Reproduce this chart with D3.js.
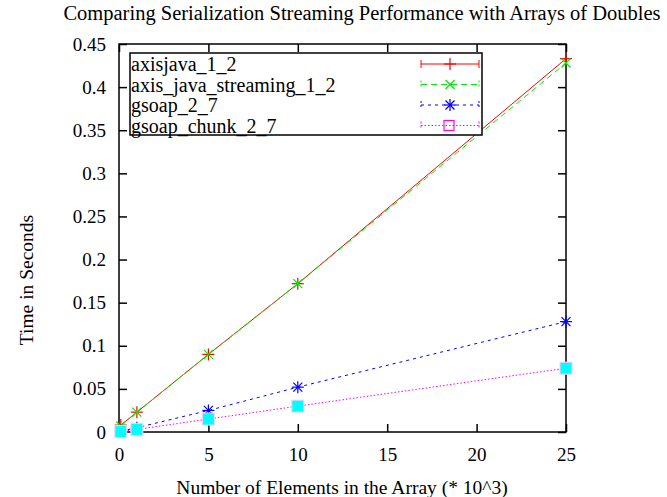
<!DOCTYPE html>
<html>
<head>
<meta charset="utf-8">
<script src="https://cdn.jsdelivr.net/npm/d3@7"></script>
<style>
  body { margin: 0; background: #fff; }
  text { font-family: "Liberation Serif", "Times New Roman", serif; fill: #000; }
</style>
</head>
<body>
<svg id="chart"></svg>
<script>
// data
var sizes = [0.1, 1, 5, 10, 25];
var axisjava = [0.008, 0.023, 0.090, 0.172, 0.433];
var axisStreaming = [0.007, 0.023, 0.090, 0.172, 0.428];
var gsoap = [0.001, 0.005, 0.025, 0.052, 0.128];
var gsoapChunk = [0.0005, 0.003, 0.015, 0.030, 0.074];
var seriesNames = ["axisjava_1_2", "axis_java_streaming_1_2", "gsoap_2_7", "gsoap_chunk_2_7"];
var xTicks = [0, 5, 10, 15, 20, 25];
var yTicks = [0, 0.05, 0.1, 0.15, 0.2, 0.25, 0.3, 0.35, 0.4, 0.45];

var W = 667, H = 497;
var margin = {top: 44, right: 101, bottom: 65, left: 119},
    width = W - margin.left - margin.right,
    height = H - margin.top - margin.bottom;

var svg = d3.select("#chart").attr("width", W).attr("height", H);
var g = svg.append("g")
  .attr("transform", "translate(" + margin.left + "," + margin.top + ")");

var x = d3.scaleLinear().domain([0, 25]).range([0, width]);
var y = d3.scaleLinear().domain([0, 0.45]).range([height, 0]);

// ticks, drawn inward on all four sides like gnuplot
var tl = 8;
g.append("g").attr("transform", "translate(0," + height + ")")
  .call(d3.axisBottom(x).tickValues(xTicks).tickSize(-tl).tickPadding(tl + 8).tickFormat(d3.format("d")));
g.append("g")
  .call(d3.axisTop(x).tickValues(xTicks).tickSize(-tl).tickFormat(""));
g.append("g")
  .call(d3.axisLeft(y).tickValues(yTicks).tickSize(-tl).tickPadding(tl + 5).tickFormat(function(d) { return d3.format("")(+d.toFixed(2)); }));
g.append("g").attr("transform", "translate(" + width + ",0)")
  .call(d3.axisRight(y).tickValues(yTicks).tickSize(-tl).tickFormat(""));
g.selectAll(".domain").remove();
g.selectAll(".tick line").attr("stroke", "#000").attr("stroke-width", 1.5);
g.selectAll(".tick text").style("font-size", "19px").style("font-family", "Liberation Serif");

g.append("rect").attr("width", width).attr("height", height)
  .attr("fill", "none").attr("stroke", "#000").attr("stroke-width", 1.5);

var series = [
  {name: seriesNames[0], values: axisjava, color: "#ff0000", dash: null, mark: "plus"},
  {name: seriesNames[1], values: axisStreaming, color: "#00ee00", dash: "6,4", mark: "cross"},
  {name: seriesNames[2], values: gsoap, color: "#0000ff", dash: "3,4", mark: "star"},
  {name: seriesNames[3], values: gsoapChunk, color: "#ff00ff", dash: "1.5,2", mark: "square"}
];

var line = d3.line()
  .x(function(d, i) { return x(sizes[i]); })
  .y(function(d) { return y(d); });

function marker(sel, type, color, cx, cy) {
  var s = 6;
  var p = sel.append("g").attr("transform", "translate(" + cx + "," + cy + ")")
    .attr("stroke", color).attr("stroke-width", 1.2).attr("fill", "none");
  if (type == "plus" || type == "star") {
    p.append("line").attr("x1", -s).attr("x2", s);
    p.append("line").attr("y1", -s).attr("y2", s);
  }
  if (type == "cross" || type == "star") {
    p.append("line").attr("x1", -s * 0.75).attr("x2", s * 0.75).attr("y1", -s * 0.75).attr("y2", s * 0.75);
    p.append("line").attr("x1", -s * 0.75).attr("x2", s * 0.75).attr("y1", s * 0.75).attr("y2", -s * 0.75);
  }
  if (type == "square") {
    p.append("rect").attr("x", -s).attr("y", -s).attr("width", 2 * s).attr("height", 2 * s);
  }
  return p;
}

// plotted in order, so later series sit on top (green over red, squares last)
var plot = g.append("g");
series.forEach(function(s) {
  plot.append("path").datum(s.values)
    .attr("d", line)
    .attr("fill", "none")
    .attr("stroke", s.color)
    .attr("stroke-width", 1)
    .attr("stroke-dasharray", s.dash);
  s.values.forEach(function(v, i) {
    if (s.mark == "square") {
      // data points render as filled cyan squares in the original
      plot.append("rect")
        .attr("x", x(sizes[i]) - 6).attr("y", y(v) - 6)
        .attr("width", 12).attr("height", 12)
        .attr("fill", "#00ffff").attr("stroke", "#ffccff").attr("stroke-width", 1);
    } else {
      marker(plot, s.mark, s.color, x(sizes[i]), y(v));
    }
  });
});

// legend
var leg = g.append("g").attr("transform", "translate(11,9)");
leg.append("rect").attr("width", 352).attr("height", 82)
  .attr("fill", "#fff").attr("stroke", "#000").attr("stroke-width", 1.5);
series.forEach(function(s, i) {
  var yy = 11 + i * 20.5;
  leg.append("text").attr("x", 1).attr("y", yy).attr("dy", "0.35em")
    .style("font-size", "20px").text(s.name);
  leg.append("line").attr("x1", 291).attr("x2", 349).attr("y1", yy).attr("y2", yy)
    .attr("stroke", s.color).attr("stroke-width", 1).attr("stroke-dasharray", s.dash);
  if (s.mark == "square") {
    leg.append("rect").attr("x", 314).attr("y", yy - 5).attr("width", 10).attr("height", 10)
      .attr("fill", "none").attr("stroke", s.color).attr("stroke-width", 1.2);
  } else {
    marker(leg, s.mark, s.color, 320, yy);
  }
  // end caps
  [291, 349].forEach(function(xx) {
    leg.append("line").attr("x1", xx).attr("x2", xx).attr("y1", yy - 4).attr("y2", yy + 4)
      .attr("stroke", s.color).attr("stroke-width", 1).attr("stroke-dasharray", s.dash ? "2,2" : null);
  });
});

// titles
svg.append("text").attr("x", 362).attr("y", 20).attr("text-anchor", "middle")
  .style("font-size", "20.5px").text("Comparing Serialization Streaming Performance with Arrays of Doubles");
svg.append("text").attr("x", 342).attr("y", 494).attr("text-anchor", "middle")
  .style("font-size", "19.5px").text("Number of Elements in the Array (* 10^3)");
svg.append("text").attr("transform", "translate(33,280) rotate(-90)").attr("text-anchor", "middle")
  .style("font-size", "19.5px").text("Time in Seconds");
</script>
</body>
</html>
